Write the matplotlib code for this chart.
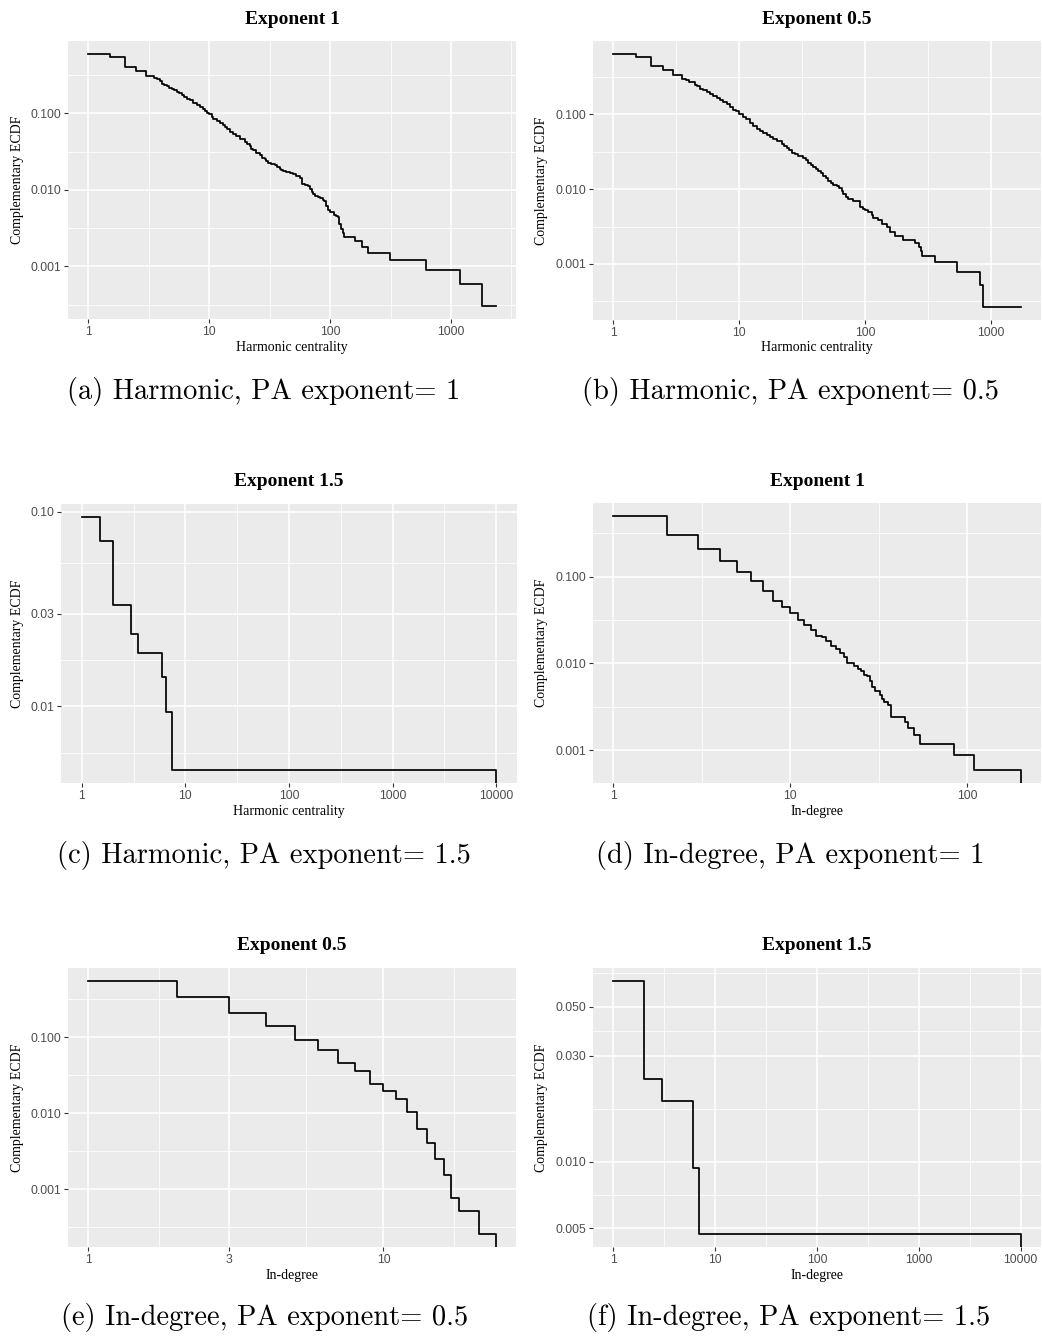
import matplotlib.pyplot as plt
import numpy as np
from matplotlib.ticker import FixedLocator, NullFormatter

W, H = 1042, 1336

# complementary ECDF step levels: each y value holds from its x to the next x
harm_exp1_x = [1, 1.5, 2.0, 2.49, 3.0, 3.5, 3.68, 3.92, 4.05, 4.23, 4.45, 4.68, 4.89, 5.11,
               5.38, 5.66, 5.92, 6.18, 6.5, 6.93, 7.38, 7.87, 8.37, 8.81, 9.21, 9.63, 10.0,
               10.45, 10.8, 11.5, 12.2, 12.9, 13.5, 14.1, 14.8, 15.8, 16.8, 18.1, 19.7, 20.6,
               21.6, 22.3, 23.0, 24.5, 26.2, 27.5, 28.8, 29.7, 30.6, 32.7, 34.7, 36.3, 38.2,
               39.4, 40.7, 43.4, 46.2, 49.2, 52.4, 56.6, 58.8, 61.4, 65.4, 67.6, 70.6, 71.9,
               74.3, 79.1, 81.7, 87.1, 89.8, 92.7, 95.7, 98.8, 108.6, 112, 115.7, 119.4, 123.2,
               127, 131.3, 162, 184, 207, 315, 625, 1180, 1815, 2339]
harm_exp1_y = [0.601, 0.544, 0.407, 0.358, 0.303, 0.289, 0.280, 0.261, 0.243, 0.236, 0.229,
               0.216, 0.207, 0.199, 0.189, 0.1815, 0.174, 0.164, 0.154, 0.147, 0.138, 0.130,
               0.122, 0.115, 0.108, 0.102, 0.097, 0.0903, 0.0834, 0.0793, 0.0754, 0.0710,
               0.0668, 0.0622, 0.0574, 0.0535, 0.0504, 0.0464, 0.0424, 0.0395, 0.0372, 0.0346,
               0.0330, 0.0307, 0.0283, 0.0264, 0.0251, 0.0236, 0.0224, 0.0220, 0.0213, 0.0199,
               0.0189, 0.0180, 0.0174, 0.0171, 0.0166, 0.0159, 0.0150, 0.0144, 0.0120, 0.0114,
               0.0111, 0.0103, 0.0095, 0.00885, 0.0084, 0.00801, 0.00785, 0.00738, 0.0071,
               0.00622, 0.00546, 0.00508, 0.00473, 0.00459, 0.00437, 0.00357, 0.00307,
               0.00277, 0.00239, 0.00212, 0.00179, 0.00151, 0.00120, 0.000905, 0.000594,
               0.000301, 0.000301]

harm_exp05_x = [1, 1.5, 2.0, 2.49, 2.99, 3.48, 3.78, 4.01, 4.45, 4.64, 4.87, 5.18, 5.51, 5.85,
                6.22, 6.61, 7.03, 7.47, 7.93, 8.44, 8.96, 9.42, 10.0, 10.75, 11.4, 12.2, 12.9,
                13.7, 14.6, 15.5, 16.5, 17.5, 18.6, 20.0, 21.7, 22.6, 23.8, 24.9, 26.0, 27.7,
                29.4, 32.2, 33.8, 35.3, 36.8, 38.6, 40.6, 42.4, 44.2, 46.4, 48.7, 50.8, 53.1,
                55.7, 59.2, 62.2, 64.9, 66.9, 70.3, 73.3, 79.3, 85.4, 90.7, 96.4, 100, 106, 113,
                116, 127, 135, 148, 157, 172, 201, 248, 269, 275, 280, 357, 539, 809, 860, 1714]
harm_exp05_y = [0.652, 0.594, 0.450, 0.398, 0.340, 0.302, 0.287, 0.273, 0.251, 0.241, 0.222,
                0.211, 0.2005, 0.1887, 0.1755, 0.1667, 0.1585, 0.1491, 0.1387, 0.1279, 0.1166,
                0.1108, 0.102, 0.0940, 0.0858, 0.0774, 0.0699, 0.0644, 0.0600, 0.0564, 0.0530,
                0.0499, 0.0464, 0.0436, 0.0406, 0.0382, 0.0360, 0.0331, 0.0308, 0.0293, 0.0278,
                0.0259, 0.0244, 0.0227, 0.0211, 0.0199, 0.0185, 0.01755, 0.0163, 0.01507,
                0.0140, 0.01291, 0.0121, 0.01142, 0.0110, 0.01052, 0.0095, 0.00858, 0.0079,
                0.00736, 0.00699, 0.00685, 0.0057, 0.00547, 0.00525, 0.00489, 0.0045, 0.0041,
                0.00386, 0.00341, 0.00308, 0.00264, 0.00239, 0.00209, 0.00189, 0.00167, 0.00148,
                0.00129, 0.00105, 0.00079, 0.000525, 0.000262, 0.000262]

harm_exp15_x = [1, 1.49, 1.99, 2.97, 3.46, 5.99, 6.45, 7.47, 10000]
harm_exp15_y = [0.0946, 0.0710, 0.0332, 0.0236, 0.0189, 0.0141, 0.0094, 0.00469, 0]

indeg_exp1_x = [1, 2, 3, 4, 5, 6, 7, 8, 9, 10, 11, 12, 13, 14, 15, 16, 17, 18, 19, 20, 21,
                23, 24, 25, 26, 27, 28, 29, 30, 32, 33, 34, 35.5, 37.2, 44.2, 46.1, 49.8, 54.3,
                84, 109, 200]
indeg_exp1_y = [0.501, 0.300, 0.205, 0.149, 0.112, 0.0883, 0.0685, 0.0516, 0.0440, 0.0379,
                0.0315, 0.0273, 0.0242, 0.0206, 0.0199, 0.0182, 0.0160, 0.0146, 0.0132, 0.0118,
                0.0102, 0.0094, 0.00869, 0.0081, 0.00741, 0.00709, 0.00621, 0.00535, 0.00477,
                0.00436, 0.00389, 0.0036, 0.00335, 0.00242, 0.0021, 0.00179, 0.00151, 0.00118,
                0.00089, 0.000587, 0]

indeg_exp05_x = [1, 2, 3, 4, 5, 6, 7, 8, 9, 10, 11, 12, 13, 14, 15, 16, 17, 18, 21, 24]
indeg_exp05_y = [0.557, 0.336, 0.211, 0.141, 0.0923, 0.0681, 0.0455, 0.0361, 0.0243, 0.0195,
                 0.0153, 0.0105, 0.00615, 0.00407, 0.00253, 0.00155, 0.00077, 0.000514,
                 0.000256, 0]

indeg_exp15_x = [1, 2, 3, 6, 7, 10000]
indeg_exp15_y = [0.0654, 0.0235, 0.01876, 0.00935, 0.0047, 0]

ticks_dec3 = [1, 10, 100, 1000]
ticks_dec4 = [1, 10, 100, 1000, 10000]
ticks_lin = ['1', '10', '100', '1000', '10000']
yt_std = [0.001, 0.01, 0.1]
yl_std = ['0.001', '0.010', '0.100']

fig = plt.figure(figsize=(W / 100, H / 100), dpi=100)


def log_limits(v):
    v = np.log10([t for t in v if t > 0])
    pad = 0.05 * (v.max() - v.min())
    return 10 ** (v.min() - pad), 10 ** (v.max() + pad)


def minor_breaks(majors, lims):
    # midpoints between major breaks in log space, extended one step past each end
    b = list(np.log10(majors))
    lo, hi = np.log10(lims)
    d = b[1] - b[0]
    if lo < b[0]:
        b = [b[0] - d] + b
    if hi > b[-1]:
        b = b + [b[-1] + d]
    mids = [(p + q) / 2 for p, q in zip(b[:-1], b[1:])]
    return [10 ** m for m in mids if lo <= m <= hi]


def panel(box, x, y, title, xlabel, xt, xl, yt, yl, caption, cap_x, cap_y):
    l, t, r, b = box
    w, h = r - l, b - t
    ax = fig.add_axes([l / W, 1 - b / H, w / W, h / H])
    ax.set_facecolor('#EBEBEB')
    ax.plot(x, y, drawstyle='steps-post', color='black', lw=1.25, zorder=3)
    ax.set_xscale('log')
    ax.set_yscale('log')
    xlim, ylim = log_limits(x), log_limits(y)
    ax.set_xlim(xlim)
    ax.set_ylim(ylim)

    ax.xaxis.set_major_locator(FixedLocator(xt))
    ax.yaxis.set_major_locator(FixedLocator(yt))
    ax.set_xticklabels(xl)
    ax.set_yticklabels(yl)
    ax.xaxis.set_minor_locator(FixedLocator(minor_breaks(xt, xlim)))
    ax.yaxis.set_minor_locator(FixedLocator(minor_breaks(yt, ylim)))
    ax.xaxis.set_minor_formatter(NullFormatter())
    ax.yaxis.set_minor_formatter(NullFormatter())

    ax.grid(which='major', color='white', lw=1.1)
    ax.grid(which='minor', color='white', lw=0.55)
    ax.set_axisbelow(True)
    for s in ax.spines.values():
        s.set_visible(False)
    ax.tick_params(which='major', length=2.75, width=0.8, color='#333333', pad=2.2,
                   labelsize=8.7, labelcolor='#4D4D4D')
    ax.tick_params(which='minor', length=0)
    for lab in ax.get_xticklabels() + ax.get_yticklabels():
        lab.set_fontfamily('Liberation Sans')

    ax.set_title(title, fontfamily='Liberation Serif', fontweight='bold', fontsize=14,
                 y=1 + 22 / h, va='center', pad=0)
    ax.set_xlabel(xlabel, fontfamily='Liberation Serif', fontsize=10)
    ax.xaxis.set_label_coords(0.5, -28 / h)
    ax.xaxis.label.set_va('center')
    ax.set_ylabel('Complementary ECDF', fontfamily='Liberation Serif', fontsize=10)
    ylab_x = 18 if l < 500 else 542
    ax.yaxis.set_label_coords((ylab_x - l) / w, 0.5)
    ax.yaxis.label.set_va('center')

    fig.text(cap_x / W, 1 - cap_y / H, caption, ha='center', va='center',
             fontsize=20.5, fontfamily='cmr10')
    return ax


panel((68, 41, 516, 319), harm_exp1_x, harm_exp1_y, 'Exponent 1', 'Harmonic centrality',
      ticks_dec3, ticks_lin[:4], yt_std, yl_std,
      '(a) Harmonic, PA exponent= 1', 264, 392)
panel((593, 41, 1041, 320), harm_exp05_x, harm_exp05_y, 'Exponent 0.5', 'Harmonic centrality',
      ticks_dec3, ticks_lin[:4], yt_std, yl_std,
      '(b) Harmonic, PA exponent= 0.5', 790, 392)
panel((61, 504, 517, 783), harm_exp15_x, harm_exp15_y, 'Exponent 1.5', 'Harmonic centrality',
      ticks_dec4, ticks_lin, [0.01, 0.03, 0.1], ['0.01', '0.03', '0.10'],
      '(c) Harmonic, PA exponent= 1.5', 264, 856)
panel((593, 503, 1041, 783), indeg_exp1_x, indeg_exp1_y, 'Exponent 1', 'In-degree',
      [1, 10, 100], ticks_lin[:3], yt_std, yl_std,
      '(d) In-degree, PA exponent= 1', 790, 856)
panel((68, 968, 516, 1247), indeg_exp05_x, indeg_exp05_y, 'Exponent 0.5', 'In-degree',
      [1, 3, 10], ['1', '3', '10'], yt_std, yl_std,
      '(e) In-degree, PA exponent= 0.5', 265, 1318)
panel((593, 968, 1041, 1247), indeg_exp15_x, indeg_exp15_y, 'Exponent 1.5', 'In-degree',
      ticks_dec4, ticks_lin, [0.005, 0.01, 0.03, 0.05], ['0.005', '0.010', '0.030', '0.050'],
      '(f) In-degree, PA exponent= 1.5', 789, 1318)

fig.savefig('out.png', dpi=100, facecolor='white')
